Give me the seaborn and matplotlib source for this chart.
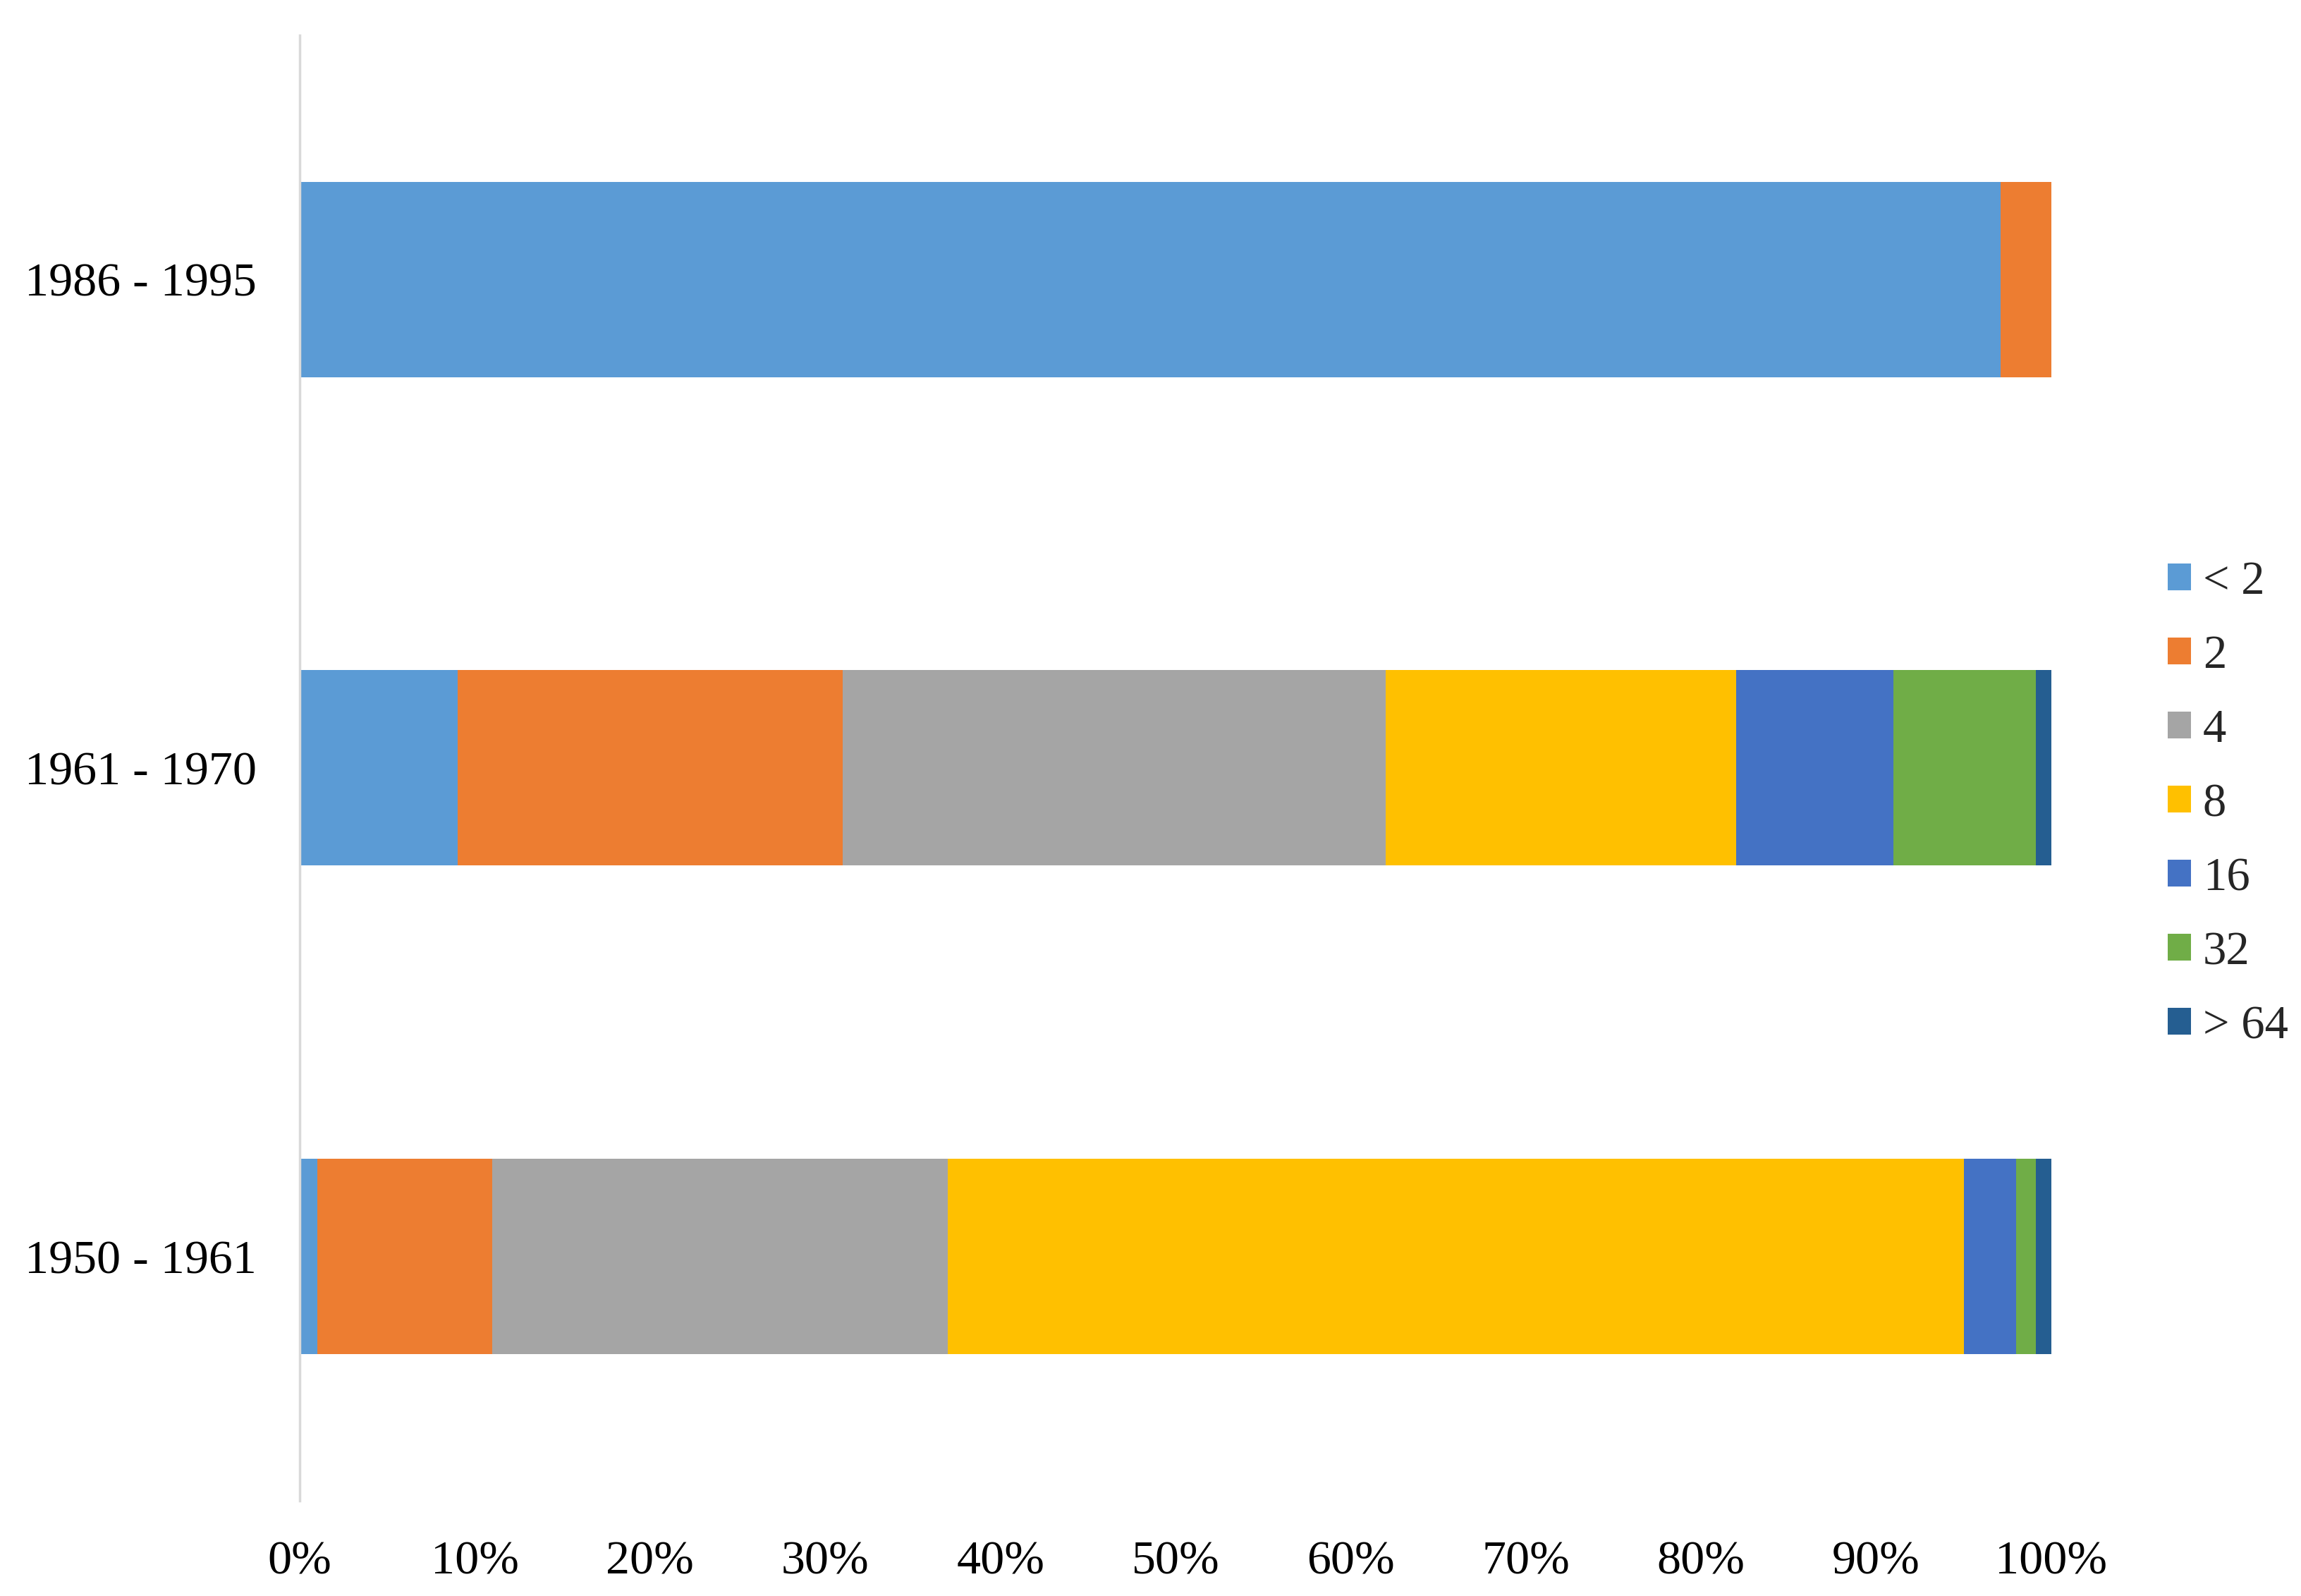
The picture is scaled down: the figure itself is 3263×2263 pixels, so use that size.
import numpy as np
import pandas as pd
import seaborn as sns
import matplotlib
matplotlib.use("Agg")
import matplotlib.pyplot as plt

# periods, top to bottom as shown
periods = ["1986 - 1995", "1961 - 1970", "1950 - 1961"]
size_classes = ["< 2", "2", "4", "8", "16", "32", "> 64"]

# share (%) of each size class per period
lt2 = [97.1, 9.0, 1.0]
s2 = [2.9, 22.0, 10.0]
s4 = [0.0, 31.0, 26.0]
s8 = [0.0, 20.0, 58.0]
s16 = [0.0, 9.0, 3.0]
s32 = [0.0, 8.1, 1.1]
gt64 = [0.0, 0.9, 0.9]

colors = ["#5B9BD5", "#ED7D31", "#A5A5A5", "#FFC000", "#4472C4", "#70AD47", "#255E91"]

df = pd.DataFrame({"period": periods, "< 2": lt2, "2": s2, "4": s4, "8": s8,
                   "16": s16, "32": s32, "> 64": gt64})
cum = df[size_classes].cumsum(axis=1)
cum["period"] = df["period"]

sns.set_style("white")
plt.rcParams["font.family"] = ["Liberation Serif", "DejaVu Serif"]

fig = plt.figure(figsize=(32.63, 22.63), dpi=100)
ax = fig.add_axes([0.1303, 0.0597, 0.7612, 0.9183])

# stacked bars: draw the cumulative totals from widest to narrowest
for name, col in reversed(list(zip(size_classes, colors))):
    sns.barplot(data=cum, x=name, y="period", order=periods, color=col,
                width=0.4, saturation=1, label=name, ax=ax, linewidth=0)

ax.set_xlim(0, 100)
ax.set_ylim(2.5, -0.5)
ax.set_xticks(np.arange(0, 101, 10))
ax.set_xticklabels([f"{v}%" for v in range(0, 101, 10)])
ax.set_xlabel("")
ax.set_ylabel("")
ax.tick_params(axis="both", length=0, labelsize=49, colors="black")
ax.tick_params(axis="y", pad=44)
ax.tick_params(axis="x", pad=41)

for side in ["top", "right", "bottom"]:
    ax.spines[side].set_visible(False)
ax.spines["left"].set_color("#D9D9D9")
ax.spines["left"].set_linewidth(2.5)

handles, labels = ax.get_legend_handles_labels()
if ax.get_legend() is not None:
    ax.get_legend().remove()
handles, labels = handles[::-1], labels[::-1]
fig.legend(handles, labels, loc="center left", bbox_to_anchor=(0.942, 0.496),
           frameon=False, fontsize=48, handlelength=0.5, handleheight=0.5,
           handletextpad=0.25, labelspacing=0.66, borderpad=0, borderaxespad=0)

fig.savefig("out.png", dpi=100)
plt.close(fig)
